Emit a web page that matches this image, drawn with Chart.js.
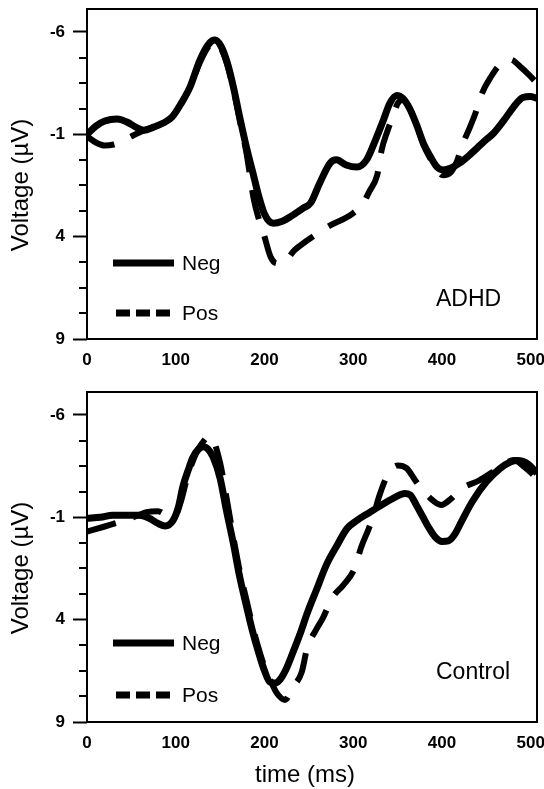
<!DOCTYPE html>
<html><head><meta charset="utf-8">
<script src="https://cdn.jsdelivr.net/npm/chart.js@4.4.1/dist/chart.umd.min.js"></script>
<style>
html,body{margin:0;padding:0;background:#fff;}
#wrap{position:relative;width:544px;height:789px;background:#fff;}
canvas{position:absolute;left:0;}
</style></head><body>
<div id="wrap">
<canvas id="c1" width="544" height="383" style="top:0;width:544px;height:383px"></canvas>
<canvas id="c2" width="544" height="406" style="top:383px;width:544px;height:406px"></canvas>
</div>
<script>
// ---------- data ----------
const seriesNames = ['Neg', 'Pos'];
const panelNames = ['ADHD', 'Control'];
const xTitle = 'time (ms)';
const yTitle = 'Voltage (µV)';
const xTicks = [0, 100, 200, 300, 400, 500];
const yMajorTicks = [-6, -1, 4, 9];
const yMinorTicks = [-4.75, -3.5, -2.25, 0.25, 1.5, 2.75, 5.25, 6.5, 7.75];

const adhdNegTime = [0,10,20,34,45,55,64,75,86,96,106,116,127,137,144,151,158,165,172,180,187,194,200,210,220,232,244,252,262,274,281,292,304,315,325,334,341,349,356,363,371,379,387,394,401,410,420,430,440,450,458,470,480,491,500,507];
const adhdNegVolt = [-1.0,-1.4,-1.65,-1.75,-1.6,-1.35,-1.2,-1.35,-1.55,-1.85,-2.5,-3.3,-4.6,-5.4,-5.6,-5.3,-4.5,-3.3,-1.85,-0.3,0.9,2.1,2.9,3.35,3.25,2.95,2.6,2.35,1.4,0.4,0.25,0.5,0.6,0.25,-0.72,-1.7,-2.5,-2.9,-2.75,-2.3,-1.5,-0.56,0.1,0.58,0.74,0.65,0.4,0.05,-0.35,-0.75,-1.05,-1.7,-2.3,-2.8,-2.85,-2.75];

const adhdPosTime = [0,10,20,30,39,50,62,75,86,96,106,116,127,137,144,151,158,165,172,180,188,194,199,207,214,220,234,246,257,274,291,300,310,318,327,332,338,344,350,356,363,371,379,387,394,401,410,417,423,430,437,445,455,465,477,490,498,507];
const adhdPosVolt = [-0.9,-0.6,-0.45,-0.5,-0.65,-0.9,-1.15,-1.35,-1.55,-1.85,-2.5,-3.3,-4.5,-5.3,-5.5,-5.2,-4.4,-3.2,-1.7,0.0,2.2,3.2,3.85,5.0,5.3,5.3,4.65,4.25,3.92,3.45,3.1,2.85,2.45,1.8,0.99,-0.24,-1.1,-1.8,-2.5,-2.7,-2.3,-1.5,-0.5,0.2,0.7,1.0,0.85,0.3,-0.5,-1.2,-1.95,-3.0,-3.8,-4.39,-4.65,-4.23,-3.9,-3.5];

const ctrlNegTime = [0,15,29,45,59,70,80,88,97,103,108,114,119,125,131,136,142,150,157,165,172,180,187,194,200,206,212,218,224,232,240,248,258,270,282,293,305,317,332,348,358,364,371,378,385,393,400,407,414,422,434,450,465,477,485,497,507];
const ctrlNegVolt = [-0.95,-1.0,-1.1,-1.1,-1.1,-0.95,-0.7,-0.58,-0.85,-1.5,-2.5,-3.3,-3.9,-4.3,-4.45,-4.35,-3.95,-2.9,-1.35,0.3,1.9,3.4,4.65,5.7,6.5,7.05,7.1,6.9,6.45,5.6,4.7,3.7,2.6,1.3,0.35,-0.45,-0.87,-1.2,-1.6,-2.0,-2.16,-2.1,-1.6,-1.05,-0.5,0.0,0.18,0.15,-0.15,-0.8,-1.76,-2.73,-3.37,-3.7,-3.77,-3.6,-3.15];

const ctrlPosTime = [0,20,39,55,67,80,91,100,106,112,118,125,131,137,142,150,157,165,172,180,187,194,200,207,214,223,232,242,248,258,266,276,289,301,309,317,323,329,338,350,360,371,387,399,410,422,442,460,470,481,493,507];
const ctrlPosVolt = [-0.3,-0.55,-0.8,-1.05,-1.25,-1.3,-1.1,-1.15,-1.8,-2.8,-3.6,-4.3,-4.7,-4.95,-4.8,-3.65,-2.0,0.0,1.6,3.1,4.4,5.5,6.3,7.0,7.6,7.92,7.3,6.55,5.4,4.5,3.9,2.95,2.3,1.55,0.45,-0.4,-1.1,-2.0,-3.0,-3.53,-3.4,-2.73,-1.92,-1.6,-1.9,-2.4,-2.8,-3.3,-3.6,-3.8,-3.45,-2.9];

// ---------- drawing ----------
const FONT = "'Liberation Sans', Arial, Helvetica, sans-serif";
const zip = (t, v) => t.map((x, i) => ({x: x, y: v[i]}));

const overlay = {
  id: 'overlay',
  afterDraw(chart, args, o) {
    const ctx = chart.ctx;
    const a = chart.chartArea;
    const ys = chart.scales.y;
    ctx.save();
    ctx.strokeStyle = '#000';
    ctx.fillStyle = '#000';
    ctx.lineWidth = 2;
    ctx.strokeRect(a.left, a.top, a.right - a.left, a.bottom - a.top);
    // minor ticks
    yMinorTicks.forEach(v => {
      const py = Math.round(ys.getPixelForValue(v));
      ctx.beginPath(); ctx.moveTo(a.left - 8, py); ctx.lineTo(a.left, py); ctx.stroke();
    });
    // legend
    chart.data.datasets.forEach((ds, i) => {
      const ly = a.top + o.legendY[i];
      ctx.save();
      ctx.lineWidth = 7;
      ctx.lineCap = 'butt';
      ctx.setLineDash(ds.borderDash && ds.borderDash.length ? [14, 6] : []);
      ctx.beginPath();
      ctx.moveTo(ds.borderDash && ds.borderDash.length ? 116 : 113, ly);
      ctx.lineTo(ds.borderDash && ds.borderDash.length ? 170 : 174, ly);
      ctx.stroke();
      ctx.restore();
      ctx.font = '21px ' + FONT;
      ctx.textAlign = 'left';
      ctx.textBaseline = 'middle';
      ctx.fillText(ds.label, 182, ly + 1);
    });
    // panel label
    ctx.font = '23px ' + FONT;
    ctx.textAlign = 'left';
    ctx.textBaseline = 'middle';
    ctx.fillText(o.panel, 436, a.top + o.panelY);
    // y title
    ctx.save();
    ctx.translate(21, (a.top + a.bottom) / 2 + 11);
    ctx.rotate(-Math.PI / 2);
    ctx.font = '24px ' + FONT;
    ctx.textAlign = 'center';
    ctx.textBaseline = 'middle';
    ctx.fillText(yTitle, 0, 0);
    ctx.restore();
    if (o.xTitle) {
      ctx.font = '24px ' + FONT;
      ctx.textAlign = 'center';
      ctx.textBaseline = 'middle';
      ctx.fillText(o.xTitle, 305, a.bottom + 53);
    }
    ctx.restore();
  }
};

function makeChart(id, H, negT, negV, posT, posV, panel, panelY, legendY, withXTitle) {
  return new Chart(document.getElementById(id), {
    type: 'line',
    data: {
      datasets: [
        {label: seriesNames[0], data: zip(negT, negV), borderColor: '#000', borderWidth: 7,
         pointRadius: 0, fill: false, tension: 0.4, cubicInterpolationMode: 'monotone',
         borderJoinStyle: 'round', borderCapStyle: 'butt'},
        {label: seriesNames[1], data: zip(posT, posV), borderColor: '#000', borderWidth: 6,
         borderDash: [30, 18], pointRadius: 0, fill: false, tension: 0.4,
         cubicInterpolationMode: 'monotone', borderCapStyle: 'butt'}
      ]
    },
    options: {
      responsive: false, animation: false, events: [],
      layout: {autoPadding: false, padding: {left: 0, right: 7, top: 9, bottom: 0}},
      plugins: {legend: {display: false}, tooltip: {enabled: false},
        overlay: {panel: panel, panelY: panelY, legendY: legendY, xTitle: withXTitle ? xTitle : null}},
      scales: {
        x: {type: 'linear', min: 0, max: 507,
          afterBuildTicks: s => { s.ticks = xTicks.map(v => ({value: v})); },
          afterFit: s => { s.height = H - 339; s.paddingLeft = 0; s.paddingRight = 0; },
          grid: {display: false, drawTicks: false}, border: {display: false},
          ticks: {padding: 11, color: '#000', maxRotation: 0, autoSkip: false,
            font: {family: FONT, size: 17, weight: 'bold'}}},
        y: {type: 'linear', reverse: true, min: -7.12, max: 9,
          afterBuildTicks: s => { s.ticks = yMajorTicks.map(v => ({value: v})); },
          afterFit: s => { s.width = 87; s.paddingTop = 0; s.paddingBottom = 0; },
          grid: {display: true, drawOnChartArea: false, drawTicks: true, tickLength: 14, tickWidth: 2, tickColor: '#000'},
          border: {display: false},
          ticks: {padding: 8, color: '#000', font: {family: FONT, size: 17, weight: 'bold'}}}
      }
    },
    plugins: [overlay]
  });
}

makeChart('c1', 383, adhdNegTime, adhdNegVolt, adhdPosTime, adhdPosVolt, panelNames[0], 291, [254, 304], false);
makeChart('c2', 406, ctrlNegTime, ctrlNegVolt, ctrlPosTime, ctrlPosVolt, panelNames[1], 281, [251, 303], true);
</script>
</body></html>
